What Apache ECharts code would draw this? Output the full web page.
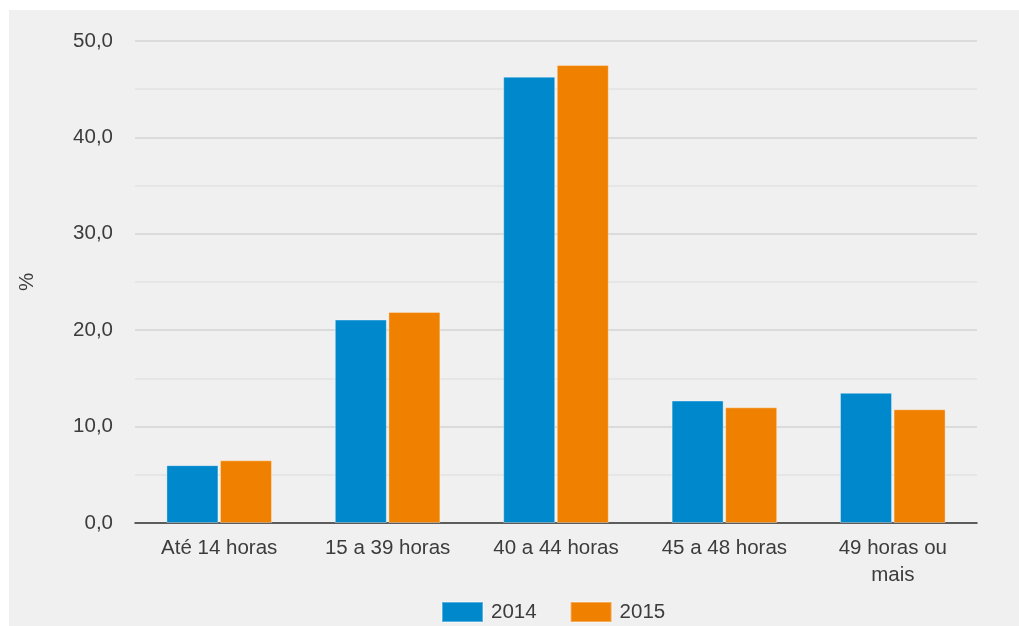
<!DOCTYPE html>
<html>
<head>
<meta charset="utf-8">
<script src="https://cdn.jsdelivr.net/npm/echarts@6/dist/echarts.min.js"></script>
<style>
html,body{margin:0;padding:0;background:#ffffff;width:1019px;height:626px;overflow:hidden;}
#chart{position:absolute;left:9px;top:10px;width:1010px;height:616px;background:#f0f0f0;}
</style>
</head>
<body>
<div id="chart"></div>
<script>
const categories = ['Até 14 horas', '15 a 39 horas', '40 a 44 horas', '45 a 48 horas', '49 horas ou\nmais'];
const seriesNames = ['2014', '2015'];
const values2014 = [6.0, 21.1, 46.3, 12.7, 13.5];
const values2015 = [6.5, 21.9, 47.5, 12.0, 11.8];
const colors = ['#0088cc', '#f08000'];

const chart = echarts.init(document.getElementById('chart'));
const font = 'Arial, "Liberation Sans", sans-serif';
const txt = '#3c3c3c';
chart.setOption({
  backgroundColor: '#f0f0f0',
  animation: false,
  textStyle: { fontFamily: font },
  grid: { left: 125, right: 42, top: 31, bottom: 103 },
  legend: {
    data: seriesNames,
    top: 586,
    left: 427,
    itemWidth: 41,
    itemHeight: 20,
    itemGap: 33,
    icon: 'rect',
    textStyle: { fontSize: 20.5, color: txt, fontFamily: font, padding: [0, 0, 0, 3] }
  },
  xAxis: {
    type: 'category',
    data: categories,
    axisTick: { show: false },
    axisLine: { lineStyle: { color: '#333', width: 1.5 } },
    axisLabel: { fontSize: 20.5, color: txt, margin: 12, lineHeight: 27, fontFamily: font, interval: 0 }
  },
  yAxis: {
    type: 'value',
    min: 0, max: 50, interval: 10,
    name: '%',
    nameLocation: 'middle',
    nameGap: 97,
    nameRotate: 90,
    nameTextStyle: { fontSize: 20.5, color: txt, fontFamily: font },
    axisLine: { show: false },
    axisTick: { show: false },
    axisLabel: {
      fontSize: 20.5, color: txt, margin: 22, fontFamily: font,
      formatter: v => v.toFixed(1).replace('.', ',')
    },
    splitLine: { lineStyle: { color: '#d4d4d4', width: 1.5 } },
    minorTick: { show: false, splitNumber: 2 },
    minorSplitLine: { show: true, lineStyle: { color: '#e2e2e2', width: 1.5 } }
  },
  series: [
    {
      name: seriesNames[0], type: 'bar', data: values2014, barWidth: 52, barGap: '3%',
      itemStyle: { color: colors[0], borderColor: 'rgba(255,255,255,0.35)', borderWidth: 1 }
    },
    {
      name: seriesNames[1], type: 'bar', data: values2015, barWidth: 52,
      itemStyle: { color: colors[1], borderColor: 'rgba(255,255,255,0.35)', borderWidth: 1 }
    }
  ]
});
</script>
</body>
</html>
